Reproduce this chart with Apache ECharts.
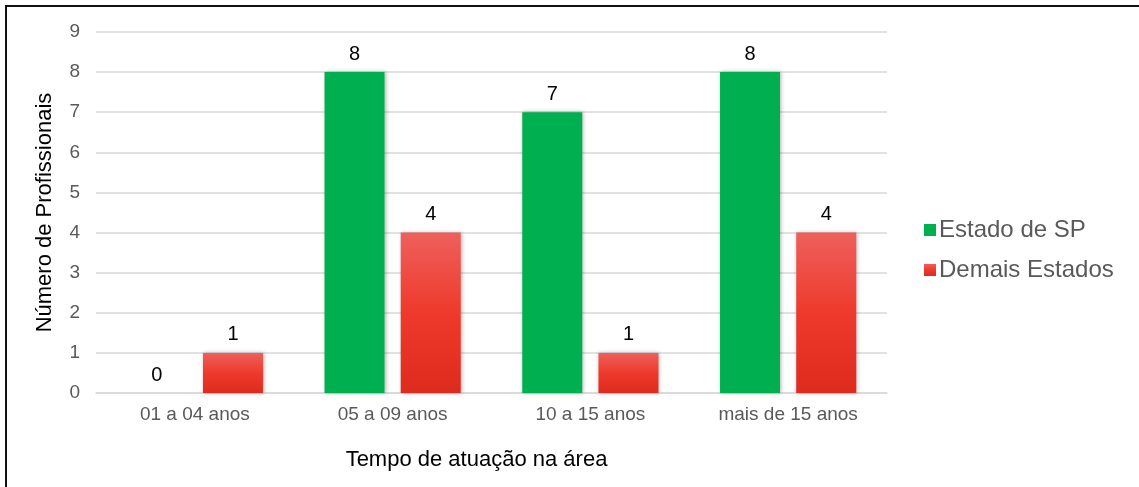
<!DOCTYPE html>
<html>
<head>
<meta charset="utf-8">
<script src="https://cdn.jsdelivr.net/npm/echarts@6/dist/echarts.min.js"></script>
<style>
  html, body { margin: 0; padding: 0; background: #fff; }
  #frame {
    position: absolute; left: 5px; top: 5px; width: 1134px; height: 482px;
    border-top: 2px solid #111; border-left: 2px solid #111; box-sizing: border-box;
  }
  #chart { position: absolute; left: 0; top: 0; width: 1139px; height: 487px; }
</style>
</head>
<body>
<div id="frame"></div>
<div id="chart"></div>
<script>
const categories = ['01 a 04 anos', '05 a 09 anos', '10 a 15 anos', 'mais de 15 anos'];
const estadoSP = [0, 8, 7, 8];
const demaisEstados = [1, 4, 1, 4];
const seriesNames = ['Estado de SP', 'Demais Estados'];

const font = 'Arial, "Liberation Sans", sans-serif';

const chart = echarts.init(document.getElementById('chart'), null, { renderer: 'canvas' });

const redGradient = new echarts.graphic.LinearGradient(0, 0, 0, 1, [
  { offset: 0, color: '#EE605C' },
  { offset: 0.5, color: '#EE3A2C' },
  { offset: 1, color: '#DD2B1E' }
]);

const valueLabel = {
  show: true, position: 'top', distance: 8,
  color: '#000', fontSize: 20, fontFamily: font
};

chart.setOption({
  animation: false,
  backgroundColor: 'transparent',
  grid: { left: 96, right: 252, top: 32, bottom: 94 },
  legend: {
    orient: 'vertical', left: 919, top: 213,
    itemWidth: 12, itemHeight: 12, itemGap: 16,
    icon: 'rect',
    textStyle: { color: '#595959', fontSize: 24, fontFamily: font, padding: [0, 0, 0, -2] },
    data: seriesNames
  },
  xAxis: {
    type: 'category', data: categories,
    name: 'Tempo de atuação na área', nameLocation: 'middle', nameGap: 56,
    nameTextStyle: { color: '#000', fontSize: 22, fontFamily: font, padding: [0, 30, 0, 0] },
    axisLine: { lineStyle: { color: '#D9D9D9', width: 1.5 } },
    axisTick: { show: false },
    axisLabel: { color: '#595959', fontSize: 19, fontFamily: font, margin: 12 }
  },
  yAxis: {
    type: 'value', min: 0, max: 9, interval: 1,
    name: 'Número de Profissionais', nameLocation: 'middle', nameGap: 40,
    nameTextStyle: { color: '#000', fontSize: 22, fontFamily: font },
    axisLine: { show: false }, axisTick: { show: false },
    axisLabel: { color: '#595959', fontSize: 19, fontFamily: font, margin: 16 },
    splitLine: { lineStyle: { color: '#D9D9D9', width: 1.5 } }
  },
  series: [
    {
      name: seriesNames[0], type: 'bar', data: estadoSP,
      barWidth: 60, barGap: '27%',
      itemStyle: {
        color: '#00B050',
        shadowColor: 'rgba(0,0,0,0.3)', shadowBlur: 4, shadowOffsetX: 1, shadowOffsetY: 0
      },
      label: valueLabel
    },
    {
      name: seriesNames[1], type: 'bar', data: demaisEstados,
      barWidth: 60,
      itemStyle: {
        color: redGradient,
        shadowColor: 'rgba(0,0,0,0.3)', shadowBlur: 4, shadowOffsetX: 1, shadowOffsetY: 0
      },
      label: valueLabel
    }
  ]
});
</script>
</body>
</html>
